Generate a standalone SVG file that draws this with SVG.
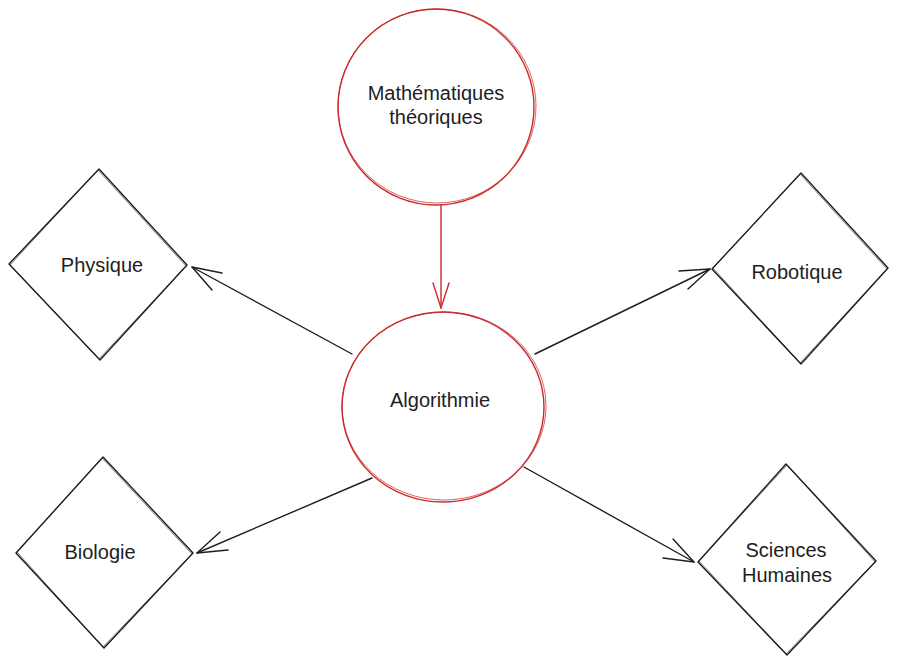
<svg xmlns="http://www.w3.org/2000/svg" width="898" height="666" viewBox="0 0 898 666">
<style>
.bg{fill:#ffffff}
.circ{fill:none;stroke:#c92a2a;stroke-width:1.4}
.circ2{fill:none;stroke:#c92a2a;stroke-width:0.9;opacity:0.8}
.dia{fill:none;stroke:#1e1e1e;stroke-width:1.4;stroke-linejoin:round}
.dia2{fill:none;stroke:#1e1e1e;stroke-width:0.8;opacity:0.7}
.edge{fill:none;stroke:#1e1e1e;stroke-width:1.4;stroke-linecap:round;stroke-linejoin:round}
.edge-red{fill:none;stroke:#c92a2a;stroke-width:1.4;stroke-linecap:round;stroke-linejoin:round}
.lbl{font-family:"Liberation Sans","Open Sans",sans-serif;font-size:20px;fill:#1e1e1e;text-anchor:middle;dominant-baseline:central}
</style>
<rect class="bg" x="0" y="0" width="898" height="666"/>
<g id="connectors">
  <g id="e-math-algo">
    <path class="edge-red" d="M441 205 L441 308"/>
    <path class="edge-red" d="M433 283 L441 308 L449 283"/>
  </g>
  <g id="e-algo-physique">
    <path class="edge" d="M352 354 L192 267"/>
    <path class="edge" d="M222 273 L192 267 L212 290"/>
  </g>
  <g id="e-algo-robotique">
    <path class="edge" d="M535 354 L710 269"/>
    <path class="edge" d="M679 271 L710 269 L688 289"/>
  </g>
  <g id="e-algo-biologie">
    <path class="edge" d="M372 478 L197 553"/>
    <path class="edge" d="M228 550 L197 553 L220 532"/>
  </g>
  <g id="e-algo-sciences">
    <path class="edge" d="M524 467 L694 562"/>
    <path class="edge" d="M663 558 L694 562 L673 539"/>
  </g>
</g>
<g id="node-math">
  <ellipse class="circ" cx="436" cy="107" rx="98" ry="98"/>
  <ellipse class="circ2" cx="437" cy="106" rx="99" ry="97"/>
  <text class="lbl" x="436" y="93">Mathématiques</text>
  <text class="lbl" x="436" y="117">théoriques</text>
</g>
<g id="node-algo">
  <ellipse class="circ" cx="443" cy="407" rx="101" ry="95"/>
  <ellipse class="circ2" cx="444" cy="406" rx="102" ry="94"/>
  <text class="lbl" x="440" y="400">Algorithmie</text>
</g>
<g id="node-physique">
  <polygon class="dia" points="99,169 187,265 100,360 9,264"/>
  <polygon class="dia2" points="98,170 186,266 99,359 10,265"/>
  <text class="lbl" x="102" y="265">Physique</text>
</g>
<g id="node-robotique">
  <polygon class="dia" points="801,173 888,268 801,364 712,269"/>
  <polygon class="dia2" points="800,174 887,269 800,363 713,268"/>
  <text class="lbl" x="797" y="272">Robotique</text>
</g>
<g id="node-biologie">
  <polygon class="dia" points="103,457 193,553 104,648 16,553"/>
  <polygon class="dia2" points="102,458 192,554 103,647 17,552"/>
  <text class="lbl" x="100" y="552">Biologie</text>
</g>
<g id="node-sciences">
  <polygon class="dia" points="786,464 876,561 787,655 698,562"/>
  <polygon class="dia2" points="787,465 875,562 786,654 699,561"/>
  <text class="lbl" x="786" y="550">Sciences</text>
  <text class="lbl" x="787" y="575">Humaines</text>
</g>
</svg>
